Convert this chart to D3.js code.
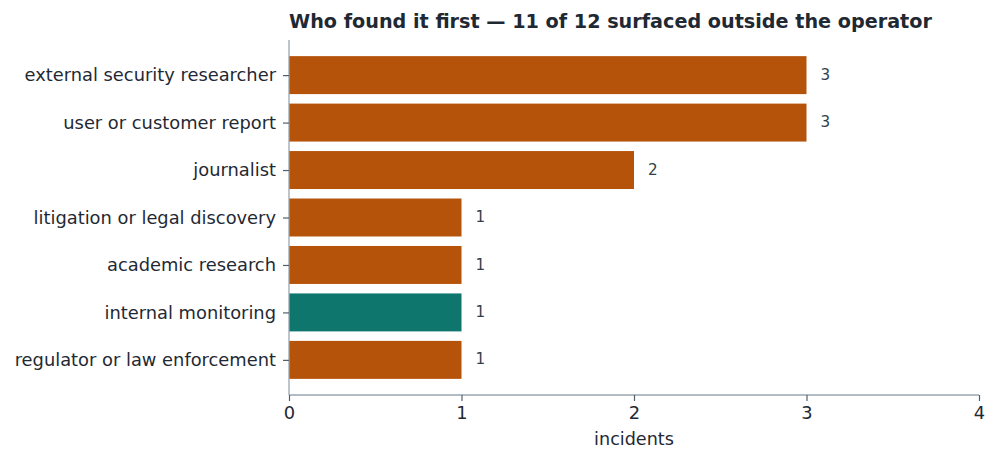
<!DOCTYPE html>
<html><head><meta charset="utf-8">
<script src="https://cdn.jsdelivr.net/npm/d3@7"></script>
<style>
html,body{margin:0;padding:0;background:#fff;}
svg{display:block;font-family:"DejaVu Sans",sans-serif;}
</style></head>
<body>
<svg id="chart" width="998" height="466"></svg>
<script>
const categories = ["external security researcher","user or customer report","journalist","litigation or legal discovery","academic research","internal monitoring","regulator or law enforcement"];
const values = [3,3,2,1,1,1,1];
const highlight = ["internal monitoring"];
const xTicks = [0,1,2,3,4];
const title = "Who found it first — 11 of 12 surfaced outside the operator";
const xLabel = "incidents";

(function(){
const svg = d3.select("#chart");
const mLeft = 289, mRight = 979, mTop = 40, mBottom = 395;
const x = d3.scaleLinear().domain([0,4]).range([mLeft,mRight]);
const n = categories.length;
const span = (n - 1) + 0.8;
const lo = -0.4 - 0.05*span, hi = (n-1) + 0.4 + 0.05*span;
const y = d3.scaleLinear().domain([lo,hi]).range([mTop,mBottom]);
const bh = y(0.4) - y(-0.4);

const dark = "#1f2933", spine = "#9aa5b1";

svg.selectAll("rect.bar").data(categories).join("rect")
  .attr("class","bar")
  .attr("x", x(0))
  .attr("y", (d,i)=>y(i-0.4))
  .attr("width", (d,i)=>x(values[i])-x(0))
  .attr("height", bh)
  .attr("fill", d=>highlight.includes(d) ? "#0f766e" : "#b45309");

svg.selectAll("text.val").data(categories).join("text")
  .attr("class","val")
  .attr("x",(d,i)=>x(values[i])+14)
  .attr("y",(d,i)=>y(i))
  .attr("dy","0.3em")
  .attr("font-size",15.2)
  .attr("fill","#323f4b")
  .text((d,i)=>values[i]);

const yAxis = d3.axisLeft(y)
  .tickValues(d3.range(n)).tickFormat(i=>categories[i]).tickSize(6).tickPadding(7);
const gy = svg.append("g").attr("transform",`translate(${mLeft},0)`).call(yAxis);
gy.select(".domain").attr("stroke",spine).attr("stroke-width",1.3).attr("d",`M0,${mTop}V${mBottom}`);
gy.selectAll(".tick line").attr("stroke","#52606d").attr("stroke-width",1.2);
gy.selectAll(".tick text").attr("font-size",17.85).attr("fill",dark).attr("font-family","DejaVu Sans");

const xAxis = d3.axisBottom(x).tickValues(xTicks).tickFormat(d3.format("d")).tickSize(6).tickPadding(5);
const gx = svg.append("g").attr("transform",`translate(0,${mBottom})`).call(xAxis);
gx.select(".domain").attr("stroke",spine).attr("stroke-width",1.3).attr("d",`M${mLeft},0H${mRight}`);
gx.selectAll(".tick line").attr("stroke","#52606d").attr("stroke-width",1.2);
gx.selectAll(".tick text").attr("font-size",17.85).attr("fill",dark).attr("font-family","DejaVu Sans");

svg.append("text").attr("x",(mLeft+mRight)/2).attr("y",445)
  .attr("text-anchor","middle").attr("font-size",17.6).attr("fill",dark).text(xLabel);

svg.append("text").attr("x",mLeft).attr("y",28)
  .attr("font-size",19.2).attr("font-weight","bold").attr("fill",dark).text(title);
})();
</script>
</body></html>
